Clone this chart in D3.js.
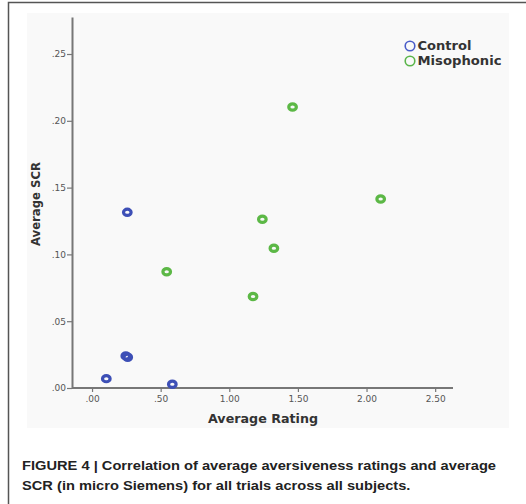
<!DOCTYPE html>
<html>
<head>
<meta charset="utf-8">
<script src="https://cdn.jsdelivr.net/npm/d3@7/dist/d3.min.js"></script>
<style>
  html, body { margin: 0; padding: 0; background: #fff; }
  svg { display: block; }
</style>
</head>
<body>
<svg id="chart" width="526" height="504"></svg>
<script>
// Average aversiveness rating (x) vs. average SCR in micro Siemens (y)
const controlRating = [0.257, 0.246, 0.260, 0.104, 0.585];
const controlSCR    = [0.1315, 0.024, 0.023, 0.007, 0.0028];
const misoRating    = [1.461, 2.103, 1.241, 1.325, 1.173, 0.544];
const misoSCR       = [0.2103, 0.1415, 0.1263, 0.1046, 0.0685, 0.0870];
const groups        = ["Control", "Misophonic"];
const xTicks        = [0, 0.5, 1.0, 1.5, 2.0, 2.5];
const yTicks        = [0, 0.05, 0.10, 0.15, 0.20, 0.25];
const captionLines  = [
  "FIGURE 4 | Correlation of average aversiveness ratings and average",
  "SCR (in micro Siemens) for all trials across all subjects."
];

const colors = { Control: "#3d4fb6", Misophonic: "#5cb846" };
const legendColors = { Control: "#4a5cc8", Misophonic: "#5ab54a" };

const svg = d3.select("#chart");

// page frame and plot panel
svg.append("rect").attr("x", 27).attr("y", 13).attr("width", 482).attr("height", 415)
  .attr("fill", "#f9f9f9");
svg.append("path").attr("d", "M8.5,504 V2.5 H526")
  .attr("fill", "none").attr("stroke", "#555").attr("stroke-width", 1.5);

const x = d3.scaleLinear().domain([-0.146, 2.63]).range([72, 453]);
const y = d3.scaleLinear().domain([0, 0.2777]).range([388, 17]);

const fmt = v => d3.format(".2f")(v).replace(/^0\./, ".");

const xAxis = d3.axisBottom(x).tickValues(xTicks).tickFormat(fmt)
  .tickSizeInner(4).tickSizeOuter(0).tickPadding(4);
const yAxis = d3.axisLeft(y).tickValues(yTicks).tickFormat(fmt)
  .tickSizeInner(5).tickSizeOuter(0).tickPadding(1);

const gx = svg.append("g").attr("transform", `translate(0,${y(0)})`).call(xAxis);
const gy = svg.append("g").attr("transform", `translate(${x.range()[0]},0)`).call(yAxis);

// x axis line starts at the y axis
gx.select(".domain").attr("d", `M${x.range()[0]},0H${x.range()[1]}`);

[gx, gy].forEach(g => {
  g.select(".domain").attr("stroke", "#777").attr("stroke-width", 2);
  g.selectAll(".tick line").attr("stroke", "#777").attr("stroke-width", 1.2);
  g.selectAll(".tick text")
    .attr("font-family", "DejaVu Sans").attr("font-size", 9).attr("fill", "#555");
});

// axis titles
svg.append("text").attr("x", 263).attr("y", 423).attr("text-anchor", "middle")
  .attr("font-family", "DejaVu Sans").attr("font-weight", "bold").attr("font-size", 11.5)
  .attr("fill", "#333").attr("textLength", 110).attr("lengthAdjust", "spacingAndGlyphs")
  .text("Average Rating");
svg.append("text").attr("transform", "translate(40,204) rotate(-90)").attr("text-anchor", "middle")
  .attr("font-family", "DejaVu Sans").attr("font-weight", "bold").attr("font-size", 11.5)
  .attr("fill", "#333").attr("textLength", 84).attr("lengthAdjust", "spacingAndGlyphs")
  .text("Average SCR");

// points
const points = [
  ...controlRating.map((r, i) => ({ g: "Control", r, s: controlSCR[i] })),
  ...misoRating.map((r, i) => ({ g: "Misophonic", r, s: misoSCR[i] }))
];
svg.append("g").selectAll("ellipse").data(points).join("ellipse")
  .attr("cx", d => x(d.r)).attr("cy", d => y(d.s))
  .attr("rx", 3.8).attr("ry", 3.1)
  .attr("fill", "none").attr("stroke", d => colors[d.g]).attr("stroke-width", 3.2);

// legend
const legend = svg.append("g").attr("transform", "translate(410,46)");
groups.forEach((g, i) => {
  const row = legend.append("g").attr("transform", `translate(0,${i * 15})`);
  row.append("circle").attr("r", 4.8).attr("fill", "none")
    .attr("stroke", legendColors[g]).attr("stroke-width", 1.6);
  row.append("text").attr("x", 7.5).attr("y", 4.2)
    .attr("font-family", "DejaVu Sans").attr("font-weight", "bold").attr("font-size", 11.5)
    .attr("fill", "#333")
    .attr("textLength", g === "Control" ? 54 : 84).attr("lengthAdjust", "spacingAndGlyphs")
    .text(g);
});

// caption: both lines share the horizontal squeeze of the first line
const capNodes = captionLines.map((line, i) =>
  svg.append("text").attr("x", 22).attr("y", 469.5 + i * 20)
    .attr("font-family", "'Liberation Sans Narrow', 'Liberation Sans', Arial, sans-serif")
    .attr("font-weight", "bold").attr("font-size", 13.5).attr("fill", "#222")
    .text(line));
const squeeze = 474 / capNodes[0].node().getComputedTextLength();
capNodes.forEach(t => {
  const w = t.node().getComputedTextLength() * squeeze;
  t.attr("textLength", w).attr("lengthAdjust", "spacingAndGlyphs");
});
</script>
</body>
</html>
